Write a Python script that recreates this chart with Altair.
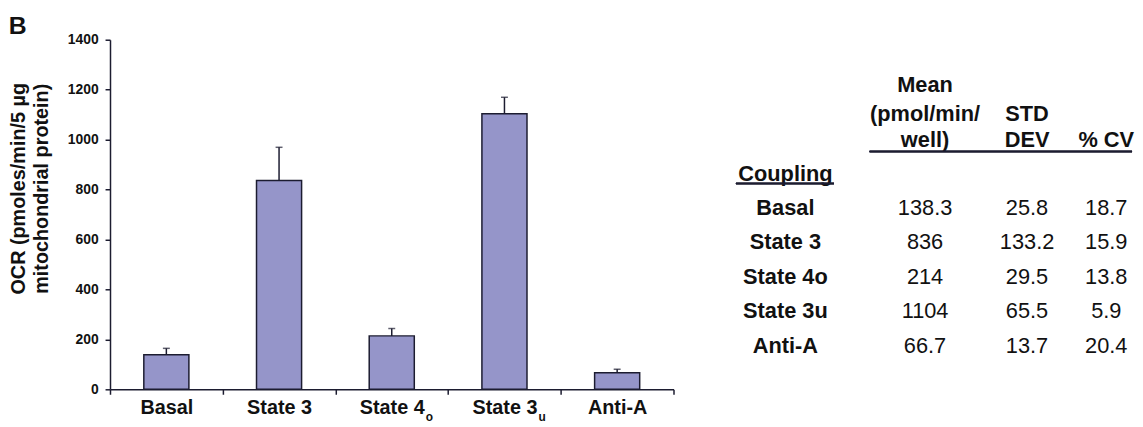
import altair as alt
import pandas as pd

# ---- data ----
categories = ["Basal", "State 3", "State 4o", "State 3u", "Anti-A"]
label_main = ["Basal", "State 3", "State 4", "State 3", "Anti-A"]
label_sub = ["", "", "o", "u", ""]
means = [138.3, 836, 214, 1104, 66.7]
std_devs = [25.8, 133.2, 29.5, 65.5, 13.7]
cvs = [18.7, 15.9, 13.8, 5.9, 20.4]
table_labels = ["Basal", "State 3", "State 4o", "State 3u", "Anti-A"]
mean_text = ["138.3", "836", "214", "1104", "66.7"]
std_text = ["25.8", "133.2", "29.5", "65.5", "13.7"]
cv_text = ["18.7", "15.9", "13.8", "5.9", "20.4"]
y_ticks = [0, 200, 400, 600, 800, 1000, 1200, 1400]

FONT = "Liberation Sans"
BAR_FILL = "#9595C9"
DARK = "#1c1c30"
TXT = "#111111"

bars_df = pd.DataFrame({
    "cat": categories,
    "mean": means,
    "sd": std_devs,
    "top": [m + s for m, s in zip(means, std_devs)],
    "sub": label_sub,
})

label_expr = " : ".join(
    [f"datum.value == '{c}' ? '{m}'" for c, m in zip(categories, label_main)]
) + " : datum.value"

x_enc = alt.X(
    "cat:N", sort=categories, title=None,
    scale=alt.Scale(paddingInner=0, paddingOuter=0),
    axis=alt.Axis(
        labelExpr=label_expr, labelAngle=0, labelFont=FONT, labelFontWeight="bold",
        labelFontSize=20, labelColor=TXT, labelPadding=3, tickBand="extent",
        tickSize=5, tickColor=DARK, tickWidth=1.5, domainColor=DARK, domainWidth=1.5,
    ),
)

y_axis = alt.Axis(
    values=y_ticks, grid=False, format="d",
    title=["OCR (pmoles/min/5 \u00b5g", "mitochondrial protein)"],
    titleFont=FONT, titleFontSize=20, titleFontWeight="bold", titleColor=TXT,
    titleLineHeight=23, titlePadding=16, titleY=150,
    labelFont=FONT, labelFontSize=14, labelFontWeight="bold", labelColor=TXT,
    labelPadding=7, tickSize=5, tickColor=DARK, tickWidth=1.5,
    domainColor=DARK, domainWidth=1.5,
)

base = alt.Chart(bars_df)

bars = base.mark_bar(
    width=alt.RelativeBandSize(0.4), color=BAR_FILL, stroke=DARK, strokeWidth=1.5
).encode(
    x=x_enc,
    y=alt.Y("mean:Q", scale=alt.Scale(domain=[0, 1400], nice=False), axis=y_axis),
)

err = base.mark_rule(color=DARK, strokeWidth=1.5).encode(
    x=alt.X("cat:N", sort=categories), y="mean:Q", y2="top:Q"
)
caps = base.mark_tick(orient="horizontal", size=7, thickness=1.5, color=DARK).encode(
    x=alt.X("cat:N", sort=categories), y="top:Q"
)
subs = base.transform_filter("datum.sub != ''").mark_text(
    font=FONT, fontSize=12, fontWeight="bold", color=TXT, dx=38, dy=28, baseline="middle"
).encode(x=alt.X("cat:N", sort=categories), y=alt.datum(0), text="sub:N")

left = alt.layer(bars, err, caps, subs).properties(width=569, height=353)

# ---- table panel ----
tbl = pd.DataFrame({
    "row": list(range(1, len(table_labels) + 1)),
    "label": table_labels,
    "mean": mean_text,
    "std": std_text,
    "cv": cv_text,
})
y_row = alt.Y(
    "row:Q",
    scale=alt.Scale(domain=[-3.885, 6.26], reverse=True, nice=False, zero=False),
    axis=None,
)
tbase = alt.Chart(tbl)


def col_text(field, xpos, bold):
    return tbase.mark_text(
        font=FONT, fontSize=22, fontWeight="bold" if bold else "normal",
        color=TXT, align="center", baseline="middle",
    ).encode(x=alt.value(xpos), y=y_row, text=f"{field}:N")


header_cells = pd.DataFrame({
    "text": ["Mean", "(pmol/min/", "well)", "STD", "DEV", "% CV", "Coupling"],
    "row": [-2.56, -1.73, -0.98, -1.73, -0.98, -0.98, 0.0],
    "col": ["mean", "mean", "mean", "std", "std", "cv", "label"],
})
col_x = {"label": 85, "mean": 226, "std": 329, "cv": 409}

headers = []
for c, xpos in col_x.items():
    headers.append(
        alt.Chart(header_cells).transform_filter(f"datum.col == '{c}'").mark_text(
            font=FONT, fontSize=22, fontWeight="bold", color=TXT,
            align="center", baseline="middle",
        ).encode(x=alt.value(xpos), y=y_row, text="text:N")
    )

head_rule = tbase.mark_rule(color=DARK, strokeWidth=1.5).encode(
    x=alt.value(170), x2=alt.value(435), y=alt.datum(-0.64)
)
under_rule = tbase.mark_rule(color=DARK, strokeWidth=1.5).encode(
    x=alt.value(35), x2=alt.value(134), y=alt.datum(0.29)
)

right = alt.layer(
    *headers,
    col_text("label", col_x["label"], True),
    col_text("mean", col_x["mean"], False),
    col_text("std", col_x["std"], False),
    col_text("cv", col_x["cv"], False),
    head_rule, under_rule,
).properties(width=435, height=353)

chart = alt.hconcat(left, right, spacing=27).properties(
    title=alt.TitleParams("B", anchor="start", frame="bounds", fontSize=25,
                          fontWeight="bold", font=FONT, color=TXT, offset=-6),
    padding={"top": 4, "left": 0, "right": 0, "bottom": 0},
).configure_view(stroke=None).configure_concat(spacing=27)

chart.save("out.html", embed_options={"renderer": "svg", "actions": False})
